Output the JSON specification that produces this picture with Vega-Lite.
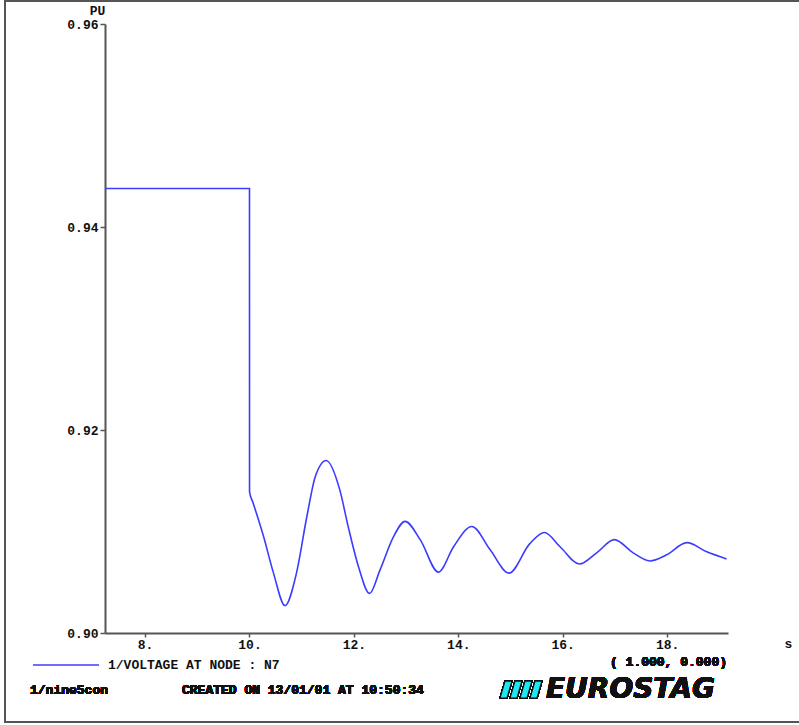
{
  "$schema": "https://vega.github.io/schema/vega-lite/v6.json",
  "autosize": "none",
  "width": 806,
  "height": 721,
  "padding": {"left": 5, "top": 1, "right": -12, "bottom": 2},
  "background": "white",
  "config": {
    "view": {"stroke": "#555555", "strokeWidth": 2},
    "font": "Liberation Mono",
    "text": {"font": "Liberation Mono", "fontWeight": "bold", "fontSize": 13, "color": "#111111"}
  },
  "data": {
    "values": [
      {"t": 7.24, "v": 0.9438, "series": "1/VOLTAGE AT NODE : N7"},
      {"t": 10.0, "v": 0.9438, "series": "1/VOLTAGE AT NODE : N7"},
      {"t": 10.001, "v": 0.9139, "series": "1/VOLTAGE AT NODE : N7"},
      {"t": 10.07, "v": 0.9128, "series": "1/VOLTAGE AT NODE : N7"},
      {"t": 10.27, "v": 0.9095, "series": "1/VOLTAGE AT NODE : N7"},
      {"t": 10.46, "v": 0.9059, "series": "1/VOLTAGE AT NODE : N7"},
      {"t": 10.68, "v": 0.9027, "series": "1/VOLTAGE AT NODE : N7"},
      {"t": 10.9, "v": 0.9059, "series": "1/VOLTAGE AT NODE : N7"},
      {"t": 11.1, "v": 0.9115, "series": "1/VOLTAGE AT NODE : N7"},
      {"t": 11.26, "v": 0.9154, "series": "1/VOLTAGE AT NODE : N7"},
      {"t": 11.47, "v": 0.917, "series": "1/VOLTAGE AT NODE : N7"},
      {"t": 11.73, "v": 0.9141, "series": "1/VOLTAGE AT NODE : N7"},
      {"t": 11.89, "v": 0.9105, "series": "1/VOLTAGE AT NODE : N7"},
      {"t": 12.09, "v": 0.9065, "series": "1/VOLTAGE AT NODE : N7"},
      {"t": 12.3, "v": 0.9039, "series": "1/VOLTAGE AT NODE : N7"},
      {"t": 12.5, "v": 0.9062, "series": "1/VOLTAGE AT NODE : N7"},
      {"t": 12.76, "v": 0.9095, "series": "1/VOLTAGE AT NODE : N7"},
      {"t": 12.98, "v": 0.911, "series": "1/VOLTAGE AT NODE : N7"},
      {"t": 13.27, "v": 0.9092, "series": "1/VOLTAGE AT NODE : N7"},
      {"t": 13.62, "v": 0.906, "series": "1/VOLTAGE AT NODE : N7"},
      {"t": 13.91, "v": 0.9085, "series": "1/VOLTAGE AT NODE : N7"},
      {"t": 14.26, "v": 0.9105, "series": "1/VOLTAGE AT NODE : N7"},
      {"t": 14.61, "v": 0.9082, "series": "1/VOLTAGE AT NODE : N7"},
      {"t": 14.97, "v": 0.9059, "series": "1/VOLTAGE AT NODE : N7"},
      {"t": 15.37, "v": 0.9088, "series": "1/VOLTAGE AT NODE : N7"},
      {"t": 15.65, "v": 0.9099, "series": "1/VOLTAGE AT NODE : N7"},
      {"t": 15.95, "v": 0.9085, "series": "1/VOLTAGE AT NODE : N7"},
      {"t": 16.32, "v": 0.9068, "series": "1/VOLTAGE AT NODE : N7"},
      {"t": 16.65, "v": 0.9079, "series": "1/VOLTAGE AT NODE : N7"},
      {"t": 16.99, "v": 0.9092, "series": "1/VOLTAGE AT NODE : N7"},
      {"t": 17.35, "v": 0.9079, "series": "1/VOLTAGE AT NODE : N7"},
      {"t": 17.67, "v": 0.9071, "series": "1/VOLTAGE AT NODE : N7"},
      {"t": 17.99, "v": 0.9077, "series": "1/VOLTAGE AT NODE : N7"},
      {"t": 18.38, "v": 0.9089, "series": "1/VOLTAGE AT NODE : N7"},
      {"t": 18.76, "v": 0.908, "series": "1/VOLTAGE AT NODE : N7"},
      {"t": 19.14, "v": 0.9073, "series": "1/VOLTAGE AT NODE : N7"}
    ]
  },
  "layer": [
    {
      "mark": {"type": "line", "interpolate": "monotone", "strokeWidth": 1.6},
      "encoding": {
        "x": {
          "field": "t",
          "type": "quantitative",
          "scale": {"domain": [7.232, 19.167], "range": [100, 723], "nice": false, "zero": false},
          "axis": {
            "orient": "bottom",
            "offset": -89,
            "values": [8, 10, 12, 14, 16, 18],
            "labelExpr": "datum.value + '.'",
            "grid": false,
            "domainColor": "#555555",
            "domainWidth": 2,
            "tickColor": "#555555",
            "tickWidth": 1.5,
            "tickSize": 4,
            "labelPadding": 1,
            "labelFont": "Liberation Mono",
            "labelFontWeight": "bold",
            "labelFontSize": 13,
            "labelColor": "#111111",
            "labelAlign": "center",
            "title": "s",
            "titleAngle": 0,
            "titleX": 783,
            "titleY": 10,
            "titleAlign": "center",
            "titleBaseline": "middle",
            "titleFont": "Liberation Mono",
            "titleFontWeight": "bold",
            "titleFontSize": 13,
            "titleColor": "#111111"
          }
        },
        "y": {
          "field": "v",
          "type": "quantitative",
          "scale": {"domain": [0.9, 0.96], "range": [632, 23], "nice": false, "zero": false},
          "axis": {
            "orient": "left",
            "offset": -100,
            "values": [0.9, 0.92, 0.94, 0.96],
            "format": ".2f",
            "grid": false,
            "domainColor": "#555555",
            "domainWidth": 2,
            "tickColor": "#555555",
            "tickWidth": 1.5,
            "tickSize": 5,
            "labelPadding": 2,
            "labelFont": "Liberation Mono",
            "labelFontWeight": "bold",
            "labelFontSize": 13,
            "labelColor": "#111111",
            "title": "PU",
            "titleAngle": 0,
            "titleX": -8,
            "titleY": 9,
            "titleAlign": "center",
            "titleBaseline": "middle",
            "titleFont": "Liberation Mono",
            "titleFontWeight": "bold",
            "titleFontSize": 13,
            "titleColor": "#111111"
          }
        },
        "color": {
          "field": "series",
          "type": "nominal",
          "scale": {"range": ["#3c3cff"]},
          "legend": {
            "orient": "none",
            "legendX": 27,
            "legendY": 630,
            "title": null,
            "padding": 0,
            "symbolType": "stroke",
            "symbolSize": 4356,
            "symbolStrokeWidth": 1.6,
            "labelOffset": 8,
            "labelLimit": 400,
            "labelFont": "Liberation Mono",
            "labelFontWeight": "bold",
            "labelFontSize": 13,
            "labelColor": "#111111"
          }
        }
      }
    },
    {
      "mark": {"type": "text", "text": "( 1.000, 0.000)", "align": "right", "baseline": "middle"},
      "encoding": {
        "x": {"datum": 19.148, "type": "quantitative"},
        "y": {"datum": 0.89714, "type": "quantitative"}
      }
    },
    {
      "mark": {"type": "text", "text": "1/nine5con", "align": "left", "baseline": "middle"},
      "encoding": {
        "x": {"datum": 5.795, "type": "quantitative"},
        "y": {"datum": 0.89438, "type": "quantitative"}
      }
    },
    {
      "mark": {"type": "text", "text": "CREATED ON 13/01/01 AT 10:50:34", "align": "left", "baseline": "middle"},
      "encoding": {
        "x": {"datum": 8.707, "type": "quantitative"},
        "y": {"datum": 0.89438, "type": "quantitative"}
      }
    },
    {
      "mark": {
        "type": "point",
        "shape": "M-1,0.395L-0.674,0.395L-0.442,-0.395L-0.767,-0.395Z M-0.535,0.395L-0.209,0.395L0.023,-0.395L-0.302,-0.395Z M-0.07,0.395L0.256,0.395L0.488,-0.395L0.163,-0.395Z M0.395,0.395L0.721,0.395L0.953,-0.395L0.628,-0.395Z",
        "size": 1849,
        "filled": true,
        "fill": "#1ee6f2",
        "stroke": "#111111",
        "strokeWidth": 1.2,
        "opacity": 1
      },
      "encoding": {
        "x": {"datum": 15.211, "type": "quantitative"},
        "y": {"datum": 0.89443, "type": "quantitative"}
      }
    },
    {
      "mark": {
        "type": "text",
        "text": "EUROSTAG",
        "align": "left",
        "baseline": "middle",
        "font": "DejaVu Sans",
        "fontWeight": "bold",
        "fontStyle": "italic",
        "fontSize": 28,
        "color": "#111111"
      },
      "encoding": {
        "x": {"datum": 15.68, "type": "quantitative"},
        "y": {"datum": 0.89443, "type": "quantitative"}
      }
    }
  ]
}
